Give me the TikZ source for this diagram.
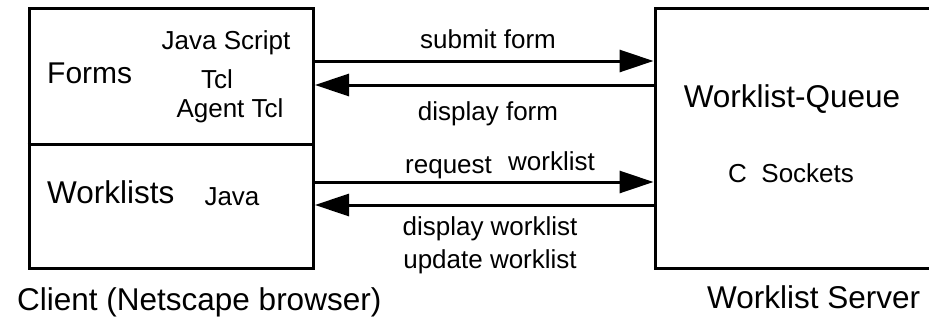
\documentclass[tikz,border=0pt]{standalone}
\usepackage{fontspec}
\setmainfont{Liberation Sans}
\usetikzlibrary{arrows.meta}
\tikzset{
  box/.style={draw, line width=3pt, inner sep=0pt},
  big/.style={inner sep=0pt, font=\fontsize{31.5}{36}\selectfont},
  mid/.style={inner sep=0pt, font=\fontsize{30}{35}\selectfont},
  small/.style={inner sep=0pt, font=\fontsize{26}{30}\selectfont},
  flow/.style={line width=3pt, -{Triangle[length=34pt,width=22pt]}},
}
\begin{document}
\begin{tikzpicture}[x=1pt,y=-1pt]
\useasboundingbox (0,0) rectangle (929,324);
\begin{scope}
\clip (0,0) rectangle (929,324);
% boxes
\node[box, minimum width=284.5pt, minimum height=260pt] (client) at (171.25,138.5) {};
\node[box, minimum width=300pt, minimum height=260pt] (server) at (805,138.5) {};
\end{scope}
\coordinate (divL) at (client.west |- 0,144);
\coordinate (divR) at (client.east |- 0,144);
\draw[line width=3pt] (divL) -- (divR);
% arrows
\draw[flow] (client.east |- 0,61) -- (server.west |- 0,61);
\draw[flow] (server.west |- 0,85) -- (client.east |- 0,85);
\draw[flow] (client.east |- 0,182) -- (server.west |- 0,182);
\draw[flow] (server.west |- 0,205) -- (client.east |- 0,205);
% client texts
\node[mid, anchor=base west] (forms) at (47,83) {Forms};
\node[small, anchor=base] (js) at (226,49) {Java Script};
\node[small, anchor=base] (tcl) at (217,88) {Tcl};
\node[small, anchor=base] (atcl) at (230,117) {Agent Tcl};
\node[big, anchor=base west] (wls) at (47,203) {Worklists};
\node[small, anchor=base] (java) at (232,205) {Java};
% arrow labels
\node[small, anchor=base] (submit) at (488,48) {submit form};
\node[small, anchor=base] (dispf) at (488,120) {display form};
\node[small, anchor=base west] (req) at (405,173) {request};
\node[small, anchor=base west] (reqw) at (508,170) {worklist};
\node[small, anchor=base] (dispw) at (490,235) {display worklist};
\node[small, anchor=base] (updw) at (490,268) {update worklist};
% server texts
\node[big, anchor=base] (queue) at (792,107) {Worklist-Queue};
\node[small, anchor=base west] (sock) at (728,182) {C~~Sockets};
% captions
\node[big, anchor=base west] (clientlbl) at (17,310) {Client (Netscape browser)};
\node[big, anchor=base west] (serverlbl) at (707,308) {Worklist Server};
\end{tikzpicture}
\end{document}
